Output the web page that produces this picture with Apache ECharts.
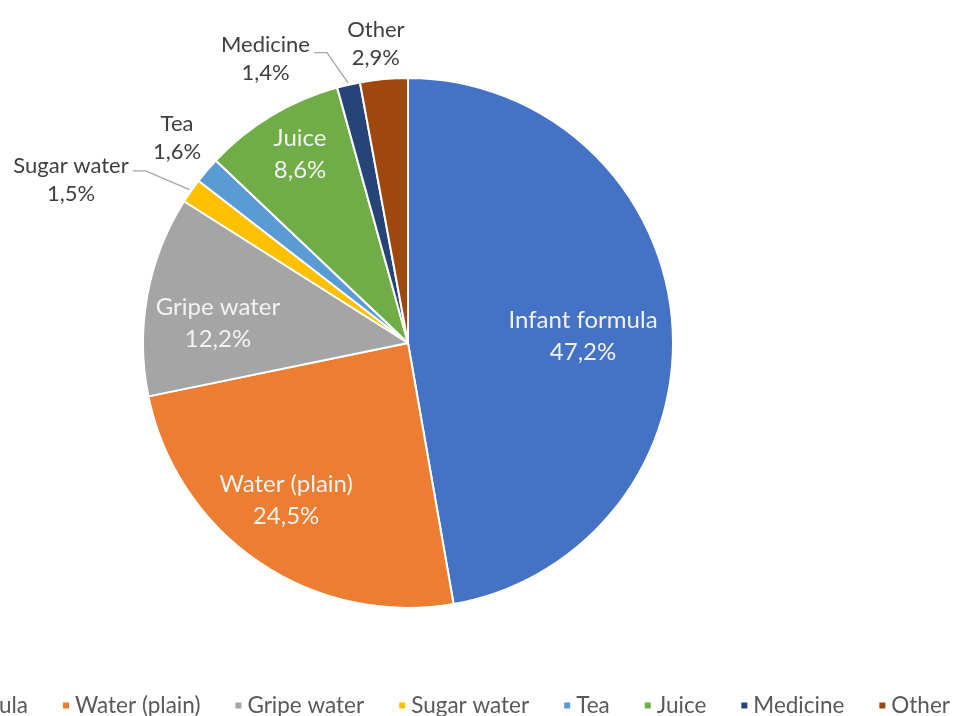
<!DOCTYPE html>
<html>
<head>
<meta charset="utf-8">
<script src="https://cdn.jsdelivr.net/npm/echarts@6/dist/echarts.min.js"></script>
<style>
html,body{margin:0;padding:0;background:#fff;}
#chart{width:957px;height:716px;}
</style>
</head>
<body>
<div id="chart"></div>
<script>
// ---- data ----
const categories = ['Infant formula', 'Water (plain)', 'Gripe water', 'Sugar water', 'Tea', 'Juice', 'Medicine', 'Other'];
const values = [47.2, 24.5, 12.2, 1.5, 1.6, 8.6, 1.4, 2.9];
const colors = ['#4472C4', '#ED7D31', '#A5A5A5', '#FFC000', '#5B9BD5', '#70AD47', '#264478', '#9E480E'];

// ---- label placement style (radius factor, angle shift in degrees) ----
const labelInside = [true, true, true, false, false, true, false, false];
const labelRadius = [0.661, 0.75, 0.721, 1.413, 1.166, 0.82, 1.198, 1.136];
const labelShift = [2.7, 3.6, -4.4, -9.2, 1.0, 1.2, -13.7, -0.9];
const leaderLine = [false, false, false, true, false, false, true, false];
const leaderYOff = [0, 0, 0, -0.16, 0, 0, -0.12, 0];

const CX = 408, CY = 343, R = 265;
const FONT = 'Lato, "Open Sans", sans-serif';

const total = values.reduce((a, b) => a + b, 0);
const midAngles = [];
let acc = 0;
values.forEach(v => { const span = v / total * 360; midAngles.push(acc + span / 2); acc += span; });

function polar(deg, r) {
  const a = deg * Math.PI / 180;
  return [CX + r * Math.sin(a), CY - r * Math.cos(a)];
}
function fmt(v) { return v.toFixed(1).replace('.', ',') + '%'; }

const data = categories.map((name, i) => ({
  name: name,
  value: values[i],
  itemStyle: { color: colors[i] },
  label: {
    show: true,
    position: labelInside[i] ? 'inside' : 'outside',
    color: labelInside[i] ? '#f2f2f2' : '#404040',
    fontSize: labelInside[i] ? 24 : 22,
    lineHeight: labelInside[i] ? 32 : 28
  },
  labelLine: { show: leaderLine[i], lineStyle: { color: '#a6a6a6', width: 1.3 } }
}));

const chart = echarts.init(document.getElementById('chart'), null, { renderer: 'canvas' });
chart.setOption({
  backgroundColor: '#ffffff',
  animation: false,
  legend: {
    data: categories,
    top: 694,
    right: 7,
    width: 1500,
    padding: 0,
    itemGap: 33,
    itemWidth: 8,
    itemHeight: 8,
    icon: 'rect',
    selectedMode: false,
    textStyle: { fontFamily: FONT, fontSize: 22.5, color: '#595959' }
  },
  series: [{
    type: 'pie',
    center: [CX, CY],
    radius: R,
    startAngle: 90,
    clockwise: true,
    avoidLabelOverlap: false,
    itemStyle: { borderColor: '#ffffff', borderWidth: 2 },
    label: {
      fontFamily: FONT,
      align: 'center',
      formatter: p => p.name + '\n' + fmt(p.value)
    },
    emphasis: { disabled: true },
    labelLayout: function (p) {
      const i = p.dataIndex;
      const mid = midAngles[i];
      const pos = polar(mid + labelShift[i], R * labelRadius[i]);
      const out = { x: pos[0], y: pos[1], align: 'center', verticalAlign: 'middle' };
      if (leaderLine[i]) {
        const w = p.labelRect.width, h = p.labelRect.height;
        const sx = pos[0] + w / 2 + 4;
        const sy = pos[1] + leaderYOff[i] * h;
        const end = polar(mid, R + 2);
        out.labelLinePoints = [[sx, sy], [sx + 13, sy], end];
      }
      return out;
    },
    data: data
  }]
});
</script>
</body>
</html>
